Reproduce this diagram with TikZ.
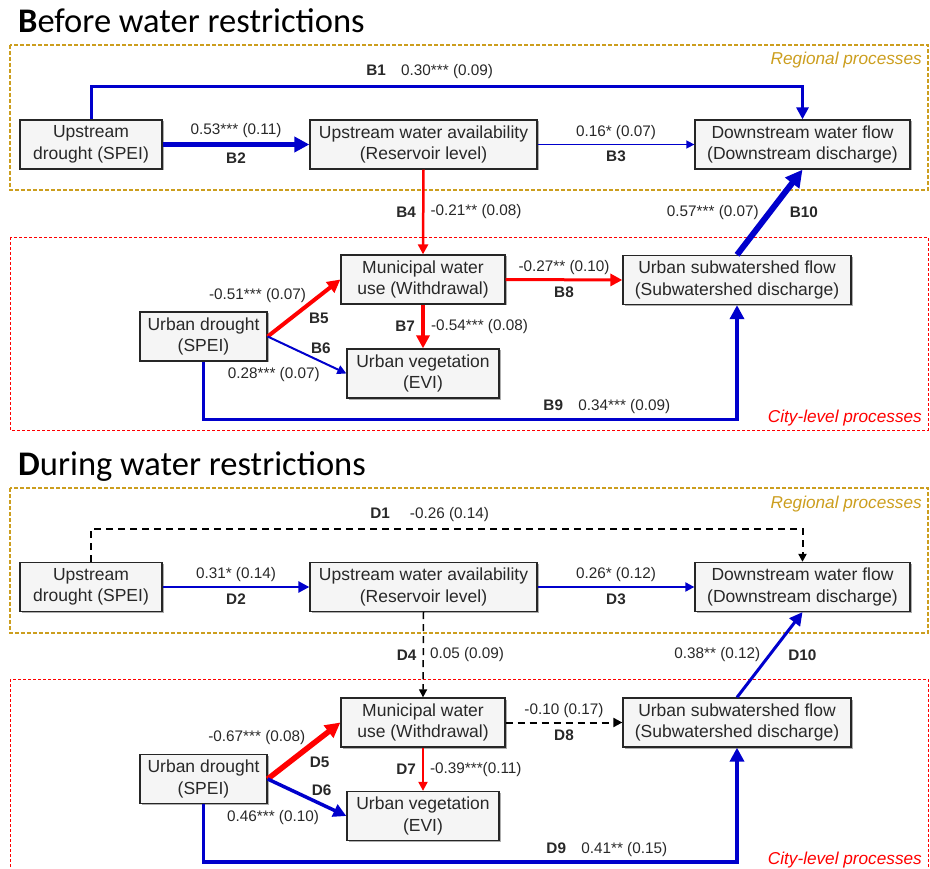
\documentclass[tikz,border=0pt]{standalone}
\usepackage{fontspec}
\setmainfont{Liberation Sans}
\newfontfamily\titlefont{Carlito}
\usetikzlibrary{arrows.meta,positioning,shadows}
\definecolor{pblue}{RGB}{0,0,204}
\definecolor{nred}{RGB}{255,0,0}
\definecolor{gold}{RGB}{204,158,30}
\definecolor{txt}{RGB}{40,40,40}
\tikzset{>={Triangle}}

\begin{document}
\begin{tikzpicture}[x=1pt, y=-1pt,
  var/.style={rectangle, draw=black!85, line width=1.3pt, fill=gray!8, text=txt, align=center, inner sep=0pt, minimum height=49pt, font=\fontsize{17.5}{21.5}\selectfont, drop shadow={shadow xshift=1.5pt, shadow yshift=-1.5pt, fill=black!45, opacity=0.7}},
  lbl/.style={font=\fontsize{15.3}{17}\selectfont, text=txt, inner sep=2pt},
  lab/.style={lbl, font=\fontsize{15.3}{17}\selectfont\bfseries},
  ttl/.style={font=\titlefont\fontsize{34.5}{38}\selectfont, inner sep=0pt},
  eff/.style 2 args={line width=#1pt, -{Triangle[length=#2pt, width=#2pt]}},
  posi/.style={draw=pblue},
  nega/.style={draw=nred},
  nsig/.style={draw=black, dash pattern=on 7pt off 5pt},
  regbox/.style={draw=gold, line width=1.1pt, dash pattern=on 4pt off 2pt},
  citybox/.style={draw=nred, line width=0.9pt, dash pattern=on 3pt off 2pt},
  regtxt/.style={font=\fontsize{17.2}{19}\selectfont\itshape, text=gold, anchor=east, inner sep=0pt},
  citytxt/.style={regtxt, text=nred}]
  \useasboundingbox (0,0) rectangle (930,869);

  % before water restrictions
  \node[ttl, anchor=base west] (tb) at (18,33) {\textbf{B}efore water restrictions};
  \draw[regbox] (10,45) rectangle (928,190);
  \draw[citybox] (10,237) rectangle (928,430);
  \node[regtxt] (rb) at (922,60) {Regional processes};
  \node[citytxt] (cb) at (922,418) {City-level processes};

  \node[var, minimum width=142pt] (bud) at (91,144.5) {Upstream\\drought (SPEI)};
  \node[var, minimum width=227pt] (bwa) at (423.5,144.5) {Upstream water availability\\(Reservoir level)};
  \node[var, minimum width=215pt] (bdf) at (802.5,144.5) {Downstream water flow\\(Downstream discharge)};
  \node[var, minimum width=164pt] (bmw) at (423,279.5) {Municipal water\\use (Withdrawal)};
  \node[var, minimum width=127pt] (bcd) at (203.5,336.5) {Urban drought\\(SPEI)};
  \node[var, minimum width=152pt] (bveg) at (423,373.5) {Urban vegetation\\(EVI)};
  \node[var, minimum width=228pt] (bsub) at (737,280) {Urban subwatershed flow\\(Subwatershed discharge)};

  \draw[posi, eff={3}{12}] (bud.north) -- ++(0,-33) -| node[pos=0.238, lbl, above=4pt] {\textbf{B1}\quad 0.30*** (0.09)} (bdf.north);
  \draw[posi, eff={5}{15}] (bud) -- node[lbl, above=2pt] {0.53*** (0.11)} node[lab, below=4pt] {B2} (bwa);
  \draw[posi, eff={1.5}{8}] (bwa) -- node[lbl, above=2pt] {0.16* (0.07)} node[lab, below=4pt] {B3} (bdf);
  \draw[nega, eff={2.5}{10}] (bwa.south) -- node[lab, left=4pt] {B4} node[lbl, right=4pt] {-0.21** (0.08)} (bmw.north);
  \draw[nega, eff={4}{13}] (bcd.east) -- node[lbl, above left=1pt and -6pt] {-0.51*** (0.07)} node[lab, below right=1pt and 1pt] {B5} (bmw.west);
  \draw[posi, eff={2}{9}] (bcd.east) -- node[lab, above right=-2pt and 1pt] {B6} node[lbl, pos=0.7, below left=2pt and 0pt] {0.28*** (0.07)} (bveg.west);
  \draw[nega, eff={4}{13}] (bmw.south) -- node[lab, left=4pt] {B7} node[lbl, right=4pt] {-0.54*** (0.08)} (bveg.north);
  \draw[nega, eff={3}{12}] (bmw.east) -- node[lbl, above=2pt] {-0.27** (0.10)} node[lab, below=4pt] {B8} (bsub.west);
  \draw[posi, eff={3.5}{14}] (bcd.south) -- ++(0,58) -| node[pos=0.378, lbl, above=2pt] {\textbf{B9}\quad 0.34*** (0.09)} (bsub.south);
  \draw[posi, eff={6}{17}] (bsub.north) -- node[lbl, left=6pt] {0.57*** (0.07)} node[lab, right=15pt] {B10} (bdf.south);

  % during water restrictions
  \begin{scope}[yshift=-442pt]
  \node[ttl, anchor=base west] (td) at (18,33) {\textbf{D}uring water restrictions};
  \draw[regbox] (10,46) rectangle (928,191);
  \draw[citybox] (10,237) rectangle (928,432);
  \node[regtxt] (rd) at (922,62) {Regional processes};
  \node[citytxt] (cd) at (922,418) {City-level processes};

  \node[var, minimum width=142pt] (dud) at (91,145) {Upstream\\drought (SPEI)};
  \node[var, minimum width=227pt] (dwa) at (423.5,145) {Upstream water availability\\(Reservoir level)};
  \node[var, minimum width=215pt] (ddf) at (802.5,145) {Downstream water flow\\(Downstream discharge)};
  \node[var, minimum width=164pt] (dmw) at (423,280.5) {Municipal water\\use (Withdrawal)};
  \node[var, minimum width=127pt] (dcd) at (203.5,337) {Urban drought\\(SPEI)};
  \node[var, minimum width=152pt] (dveg) at (423,374) {Urban vegetation\\(EVI)};
  \node[var, minimum width=228pt] (dsub) at (737,280.5) {Urban subwatershed flow\\(Subwatershed discharge)};

  \draw[nsig, eff={2}{8}] (dud.north) -- ++(0,-33) -| node[pos=0.238, lbl, above=4pt] {\textbf{D1}\hspace{20pt}-0.26 (0.14)} (ddf.north);
  \draw[posi, eff={2.5}{11}] (dud) -- node[lbl, above=2pt] {0.31* (0.14)} node[lab, below=4pt] {D2} (dwa);
  \draw[posi, eff={2}{9}] (dwa) -- node[lbl, above=2pt] {0.26* (0.12)} node[lab, below=4pt] {D3} (ddf);
  \draw[nsig, eff={1.5}{8}] (dwa.south) -- node[lab, left=4pt] {D4} node[lbl, right=4pt] {0.05 (0.09)} (dmw.north);
  \draw[nega, eff={5.5}{15}] (dcd.east) -- node[lbl, above left=1pt and -6pt] {-0.67*** (0.08)} node[lab, below right=1pt and 1pt] {D5} (dmw.west);
  \draw[posi, eff={3.5}{13}] (dcd.east) -- node[lab, above right=-2pt and 1pt] {D6} node[lbl, pos=0.7, below left=2pt and 0pt] {0.46*** (0.10)} (dveg.west);
  \draw[nega, eff={2}{9}] (dmw.south) -- node[lab, left=4pt] {D7} node[lbl, right=4pt] {-0.39***(0.11)} (dveg.north);
  \draw[nsig, eff={2}{9}] (dmw.east) -- node[lbl, above=2pt] {-0.10 (0.17)} node[lab, below=4pt] {D8} (dsub.west);
  \draw[posi, eff={3.5}{14}] (dcd.south) -- ++(0,58) -| node[pos=0.378, lbl, above=2pt] {\textbf{D9}\quad 0.41** (0.15)} (dsub.south);
  \draw[posi, eff={3}{13}] (dsub.north) -- node[lbl, left=6pt] {0.38** (0.12)} node[lab, right=15pt] {D10} (ddf.south);
  \end{scope}
\end{tikzpicture}
\end{document}
